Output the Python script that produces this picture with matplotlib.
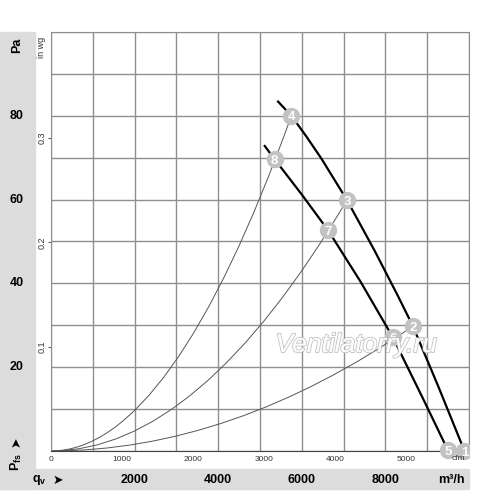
import matplotlib
matplotlib.use('Agg')
import matplotlib.pyplot as plt
from matplotlib.patches import Rectangle, PathPatch
from matplotlib.path import Path
from matplotlib.transforms import blended_transform_factory
import matplotlib.patheffects as pe

plt.rcParams['font.family'] = ['Liberation Sans', 'DejaVu Sans']
plt.rcParams['mathtext.fontset'] = 'custom'
plt.rcParams['mathtext.rm'] = 'Liberation Sans'
plt.rcParams['mathtext.bf'] = 'Liberation Sans:bold'

# fan curves, m3/h vs Pa
curve_a_q = [5432, 5751, 6100, 6468, 7080, 7742, 8300, 8658, 9270, 9892]
curve_a_p = [83.4, 80.0, 75.2, 69.8, 59.9, 47.8, 37.0, 29.8, 15.3, 0.0]
curve_b_q = [5113, 5352, 6000, 6627, 7400, 8180, 8900, 9494]
curve_b_p = [72.8, 69.6, 61.2, 52.7, 40.5, 27.1, 12.5, 0.2]

# numbered operating points
point_ids = ['1', '2', '3', '4', '5', '6', '7', '8']
point_q = [9892, 8658, 7080, 5751, 9494, 8180, 6627, 5352]
point_p = [0.0, 29.8, 59.9, 80.0, 0.2, 27.1, 52.7, 69.6]

# system curves (parabolas from origin) end at points 4, 3, 2
sys_end_q = [5751, 7080, 8658]
sys_end_p = [80.0, 59.9, 29.8]

pa_labels = [20, 40, 60, 80]
m3h_labels = [2000, 4000, 6000, 8000]
cfm_ticks = [0, 1000, 2000, 3000, 4000, 5000]
inwg_ticks = [0.1, 0.2, 0.3]

M3H_PER_CFM = 1.699
PA_PER_INWG = 249.1

W, H = 500, 491
fig = plt.figure(figsize=(W / 100, H / 100), dpi=100)


def fx(px):
    return px / W


def fy(py):
    return 1 - py / H


strip = '#dcdcdc'
fig.patches.append(Rectangle((0, fy(489)), fx(35), fy(32) - fy(489),
                             transform=fig.transFigure, color=strip, zorder=0))
fig.patches.append(Rectangle((0, fy(489)), fx(469), fy(469) - fy(489),
                             transform=fig.transFigure, color=strip, zorder=0))

ax = fig.add_axes([fx(51), fy(451), fx(469) - fx(51), fy(32) - fy(451)])
ax.set_xlim(0, 10000)
ax.set_ylim(0, 100)
ax.set_xticks(range(0, 10001, 1000))
ax.set_yticks(range(0, 101, 10))
ax.grid(color='#8f8f8f', lw=1.0)
ax.tick_params(length=0, labelbottom=False, labelleft=False)
for s in ax.spines.values():
    s.set_color('#8f8f8f')
ax.spines['bottom'].set_color('#444444')

# system curves: quadratic bezier = exact parabola through origin
for q, p in zip(sys_end_q, sys_end_p):
    path = Path([(0, 0), (q / 2, 0), (q, p)], [Path.MOVETO, Path.CURVE3, Path.CURVE3])
    ax.add_patch(PathPatch(path, fill=False, edgecolor='#555555', lw=0.7, zorder=2))

ax.plot(curve_a_q, curve_a_p, color='black', lw=1.6, zorder=3)
ax.plot(curve_b_q, curve_b_p, color='black', lw=1.6, zorder=3)

clip = Rectangle((0, 0), fx(469), 1, transform=fig.transFigure)
for i, q, p in zip(point_ids, point_q, point_p):
    m, = ax.plot(q, p, 'o', ms=12.5, color='#c2c2c2', mec='none', zorder=4)
    m.set_clip_path(clip)
    t = ax.text(q, p, i, ha='center', va='center_baseline', color='white',
                fontsize=9.5, fontweight='bold', zorder=5, clip_on=True)
    t.set_clip_path(clip)

wm = ax.text(7300, 25.3, 'Ventilatorry.ru', ha='center', va='center', fontsize=19,
             style='italic', color='white', alpha=0.8, zorder=6)
wm.set_path_effects([pe.withStroke(linewidth=1.4, foreground='#b8b8b8'), pe.Normal()])

# secondary scales
secx = ax.secondary_xaxis('bottom', functions=(lambda q: q / M3H_PER_CFM,
                                               lambda c: c * M3H_PER_CFM))
secx.set_xticks(cfm_ticks)
secx.tick_params(length=0, labelsize=6, pad=3.5, colors='#333333')
secx.spines['bottom'].set_visible(False)

secy = ax.secondary_yaxis('left', functions=(lambda p: p / PA_PER_INWG,
                                             lambda w: w * PA_PER_INWG))
secy.set_yticks(inwg_ticks)
secy.set_yticklabels([str(v) for v in inwg_ticks], rotation=90, va='center')
secy.tick_params(length=2, width=0.6, labelsize=6.5, pad=1.5, colors='#333333')
secy.spines['left'].set_visible(False)

fig.text(fx(42), fy(47), 'in wg', rotation=90, ha='center', va='center',
         fontsize=6.5, color='#333333')
fig.text(fx(458), fy(459), 'cfm', ha='center', va='center', fontsize=6, color='#333333')

# labels in the grey strips
ytr = blended_transform_factory(fig.transFigure, ax.transData)
for v in pa_labels:
    fig.text(fx(17), v, str(v), transform=ytr, ha='center', va='center',
             fontsize=9, fontweight='bold')
fig.text(fx(17), fy(45), 'Pa', rotation=90, ha='center', va='center',
         fontsize=9, fontweight='bold')
fig.text(fx(16), fy(462), r'$\mathbf{P_{fs}}$', rotation=90, ha='center', va='center',
         fontsize=9)
fig.text(fx(16), fy(442), '➤', rotation=90, ha='center', va='center', fontsize=9,
         family='DejaVu Sans')

xtr = blended_transform_factory(ax.transData, fig.transFigure)
for v in m3h_labels:
    fig.text(v, fy(480), str(v), transform=xtr, ha='center', va='center',
             fontsize=9, fontweight='bold')
fig.text(fx(451), fy(480), 'm³/h', ha='center', va='center', fontsize=9, fontweight='bold')
fig.text(fx(39), fy(480), r'$\mathbf{q_v}$', ha='center', va='center', fontsize=9)
fig.text(fx(58), fy(480), '➤', ha='center', va='center', fontsize=9, family='DejaVu Sans')

fig.savefig('out.png', dpi=100)
